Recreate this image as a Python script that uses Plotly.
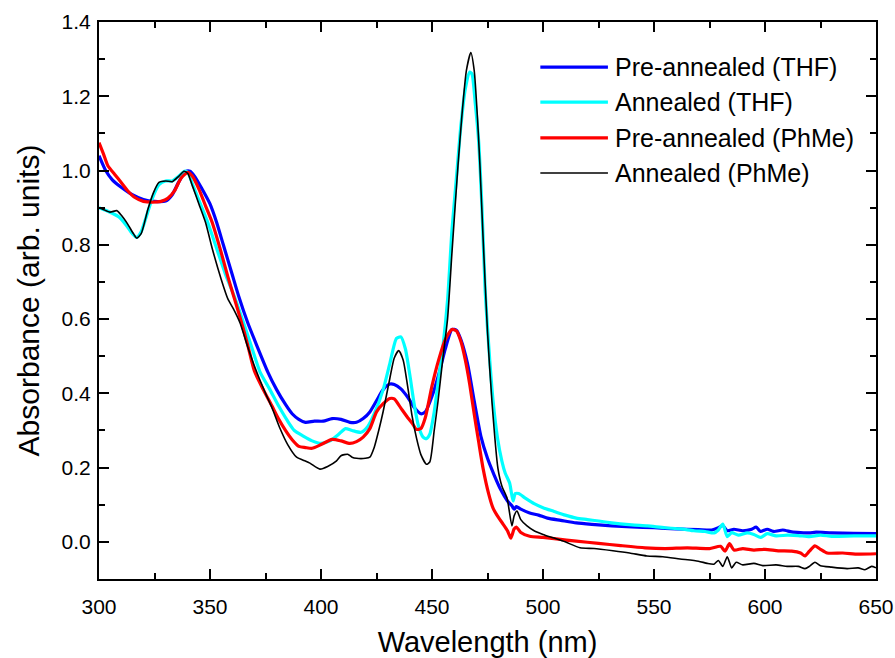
import plotly.graph_objects as go

# UV-vis absorbance spectra
SERIES_NAMES = ['Pre-annealed (THF)', 'Annealed (THF)', 'Pre-annealed (PhMe)', 'Annealed (PhMe)']

WL_PRE_THF = [300, 303, 306, 310, 315, 320, 325, 330, 333, 336, 339, 341, 343, 346, 350, 353, 356, 360, 363, 367,
              371, 376, 380, 384, 387, 390, 393, 397, 401, 405, 409, 413, 416, 419, 422, 425, 428, 431, 433, 436,
              439, 442, 445, 447, 450, 453, 456, 459, 461, 463, 466, 469, 472, 475, 478, 481, 484, 486, 487, 488,
              490, 494, 498, 502, 508, 515, 522, 531, 540, 550, 560, 570, 576, 579, 581, 583, 586, 590, 594, 596,
              598, 601, 604, 608, 612, 616, 620, 623, 630, 640, 650]
ABS_PRE_THF = [1.040, 1.000, 0.975, 0.955, 0.935, 0.922, 0.917, 0.918, 0.935, 0.970, 0.997, 0.998, 0.985, 0.955, 0.910,
               0.860, 0.800, 0.720, 0.660, 0.590, 0.530, 0.458, 0.410, 0.370, 0.345, 0.330, 0.322, 0.325, 0.325, 0.332,
               0.330, 0.322, 0.322, 0.332, 0.350, 0.380, 0.410, 0.425, 0.424, 0.412, 0.390, 0.362, 0.345, 0.350, 0.392,
               0.450, 0.520, 0.572, 0.570, 0.545, 0.480, 0.380, 0.285, 0.225, 0.180, 0.140, 0.110, 0.097, 0.088, 0.095,
               0.088, 0.078, 0.072, 0.064, 0.058, 0.051, 0.047, 0.043, 0.040, 0.038, 0.035, 0.033, 0.032, 0.038, 0.044,
               0.030, 0.034, 0.030, 0.034, 0.040, 0.028, 0.034, 0.028, 0.032, 0.027, 0.025, 0.024, 0.026, 0.024, 0.023,
               0.022]

WL_ANN_THF = [300, 303, 306, 309, 312, 315, 317, 319, 321, 324, 327, 330, 333, 336, 338.5, 340, 342, 345, 349, 353,
              357, 361, 365, 369, 372.5, 377, 381, 385, 388, 392, 396, 400, 404, 408, 411, 414, 418, 421, 424, 428,
              431, 434, 436, 438, 440, 442, 444, 446, 447.5, 449, 451, 453, 455, 457, 459, 461, 463, 465, 467, 468,
              469.5, 471, 472.5, 474, 476, 477.5, 479.5, 481.5, 483, 485, 486.5, 487.5, 489, 492, 496, 500, 505, 510,
              515, 520, 530, 540, 547, 555, 562, 568, 573, 577, 579, 581, 583, 585, 588, 592, 595, 598, 601, 605,
              610, 615, 620, 625, 630, 640, 650]
ABS_ANN_THF = [0.900, 0.893, 0.885, 0.875, 0.855, 0.830, 0.820, 0.835, 0.870, 0.925, 0.962, 0.972, 0.972, 0.985, 0.998,
               0.995, 0.965, 0.920, 0.860, 0.790, 0.720, 0.660, 0.592, 0.520, 0.458, 0.410, 0.365, 0.325, 0.300, 0.285,
               0.272, 0.265, 0.272, 0.290, 0.305, 0.300, 0.295, 0.310, 0.345, 0.410, 0.480, 0.548, 0.552, 0.520, 0.450,
               0.370, 0.310, 0.282, 0.278, 0.290, 0.350, 0.440, 0.530, 0.650, 0.840, 0.980, 1.120, 1.220, 1.265, 1.260,
               1.180, 1.080, 0.900, 0.670, 0.490, 0.380, 0.280, 0.217, 0.185, 0.158, 0.110, 0.130, 0.130, 0.118, 0.103,
               0.092, 0.082, 0.072, 0.064, 0.060, 0.052, 0.046, 0.043, 0.038, 0.035, 0.030, 0.028, 0.024, 0.032, 0.048,
               0.014, 0.025, 0.018, 0.024, 0.020, 0.012, 0.022, 0.016, 0.018, 0.017, 0.014, 0.018, 0.015, 0.016, 0.016]

WL_PRE_PHME = [300, 302, 304, 307, 310, 313, 316, 320, 324, 328, 331, 334, 337, 340, 342, 345, 348, 351, 355, 358,
               361, 364, 367, 370, 374, 378, 381, 384, 387, 390, 393, 396, 400, 405, 409, 413, 416, 419, 422, 425,
               428, 431, 433, 436, 439, 441, 443, 445, 447, 450, 453, 456, 459, 461, 463, 465, 467, 469, 471, 473,
               475.5, 477.5, 480, 482, 484, 485.5, 487, 488, 490, 494, 500, 506, 515, 525, 535, 546, 555, 565, 575, 580,
               582, 584, 586, 590, 595, 600, 606, 612, 616, 618, 620, 622.5, 625, 628, 635, 642, 650]
ABS_PRE_PHME = [1.075, 1.045, 1.013, 0.990, 0.968, 0.945, 0.928, 0.917, 0.915, 0.917, 0.925, 0.945, 0.980, 0.995, 0.985,
                0.950, 0.905, 0.860, 0.780, 0.715, 0.655, 0.595, 0.530, 0.460, 0.410, 0.365, 0.330, 0.300, 0.275, 0.257,
                0.254, 0.252, 0.262, 0.276, 0.272, 0.265, 0.270, 0.282, 0.305, 0.350, 0.372, 0.386, 0.385, 0.360, 0.335,
                0.320, 0.303, 0.305, 0.335, 0.420, 0.490, 0.545, 0.572, 0.568, 0.540, 0.490, 0.424, 0.345, 0.270, 0.198,
                0.130, 0.091, 0.065, 0.048, 0.030, 0.010, 0.035, 0.040, 0.025, 0.015, 0.012, 0.008, 0.002, -0.004, -0.010,
                -0.016, -0.018, -0.016, -0.018, -0.012, -0.025, -0.005, -0.022, -0.018, -0.022, -0.020, -0.024, -0.025,
                -0.030, -0.038, -0.025, -0.011, -0.020, -0.030, -0.030, -0.033, -0.032]

WL_ANN_PHME = [300, 302, 305, 308, 310, 313, 315.5, 317, 319, 322, 324.5, 327, 330, 333, 336, 338.3, 340, 342, 345, 348,
               351, 355, 358, 360.5, 363.5, 367, 371, 375, 378, 381.5, 385, 389, 392, 395, 399.5, 403, 407, 409, 412,
               414, 416, 420, 422, 424, 426, 428, 431, 433, 435, 437, 439, 441, 443, 445, 447.5, 449, 451, 452.7, 455,
               457, 459, 461.7, 463.5, 465.5, 467.5, 469, 470.5, 471.6, 473, 475, 477, 479.7, 481.5, 483.8, 486, 487,
               488.3, 490, 492.8, 496, 500, 504.5, 510, 516.7, 523, 531.5, 539, 546.8, 554, 561.7, 570, 574, 577, 579,
               581, 583, 585, 587, 590, 595, 599, 605, 610, 615, 618, 620, 622.5, 625, 630, 637, 642, 645, 648, 650]
ABS_ANN_PHME = [0.900, 0.895, 0.888, 0.892, 0.880, 0.855, 0.830, 0.818, 0.830, 0.895, 0.940, 0.968, 0.972, 0.970, 0.985,
                0.998, 0.992, 0.960, 0.910, 0.860, 0.790, 0.708, 0.655, 0.628, 0.590, 0.525, 0.458, 0.400, 0.360, 0.306,
                0.262, 0.228, 0.220, 0.212, 0.196, 0.203, 0.218, 0.232, 0.236, 0.228, 0.225, 0.225, 0.228, 0.255, 0.300,
                0.351, 0.440, 0.495, 0.515, 0.490, 0.420, 0.340, 0.280, 0.235, 0.209, 0.215, 0.300, 0.378, 0.500, 0.600,
                0.780, 1.013, 1.150, 1.270, 1.318, 1.270, 1.140, 1.013, 0.820, 0.566, 0.378, 0.198, 0.150, 0.118, 0.043,
                0.070, 0.083, 0.060, 0.043, 0.030, 0.020, 0.011, 0.000, -0.016, -0.018, -0.024, -0.030, -0.038, -0.040,
                -0.046, -0.052, -0.058, -0.060, -0.050, -0.066, -0.040, -0.070, -0.055, -0.062, -0.058, -0.064, -0.062,
                -0.066, -0.066, -0.072, -0.066, -0.055, -0.064, -0.068, -0.072, -0.070, -0.075, -0.066, -0.070]

COLORS = ['#0000FF', '#00FFFF', '#FF0000', '#000000']
WIDTHS = [3.2, 3.2, 3.2, 1.6]

FONT = 'Liberation Sans, Arial, sans-serif'

fig = go.Figure()
data = [(WL_PRE_THF, ABS_PRE_THF), (WL_ANN_THF, ABS_ANN_THF), (WL_PRE_PHME, ABS_PRE_PHME), (WL_ANN_PHME, ABS_ANN_PHME)]
for (wl, ab), name, c, w in zip(data, SERIES_NAMES, COLORS, WIDTHS):
    fig.add_trace(go.Scatter(x=wl, y=ab, mode='lines', name=name,
                             line=dict(color=c, width=w, shape='spline', smoothing=0.6),
                             showlegend=False))

# hand-drawn legend (long sample lines like the original)
leg_y = [0.919, 0.856, 0.792, 0.729]
for name, c, w, yy in zip(SERIES_NAMES, COLORS, WIDTHS, leg_y):
    fig.add_shape(type='line', xref='paper', yref='paper', x0=0.568, x1=0.655, y0=yy, y1=yy,
                  line=dict(color=c, width=w))
    fig.add_annotation(xref='paper', yref='paper', x=0.661, y=yy, text=name, showarrow=False,
                       xanchor='left', yanchor='middle', font=dict(family=FONT, size=25, color='black'))

axis_common = dict(showline=True, linecolor='black', linewidth=2, mirror='ticks', ticks='inside',
                   tickwidth=2, ticklen=10, tickcolor='black', showgrid=False, zeroline=False,
                   tickfont=dict(family=FONT, size=21, color='black'))

fig.update_xaxes(range=[300, 650], dtick=50, tick0=300, ticklabelstandoff=8,
                 minor=dict(ticks='inside', ticklen=6, tickwidth=1.5, tickcolor='black', dtick=25, showgrid=False),
                 title=dict(text='Wavelength (nm)', font=dict(family=FONT, size=29, color='black'), standoff=14),
                 **axis_common)
fig.update_yaxes(range=[-0.1, 1.4], dtick=0.2, tick0=0, tickformat='.1f', ticklabelstandoff=2,
                 minor=dict(ticks='inside', ticklen=6, tickwidth=1.5, tickcolor='black', dtick=0.1, showgrid=False),
                 title=dict(text='Absorbance (arb. units)', font=dict(family=FONT, size=30, color='black'), standoff=13),
                 **axis_common)

fig.update_layout(width=895, height=658, plot_bgcolor='white', paper_bgcolor='white',
                  margin=dict(l=99, r=19, t=22, b=79, autoexpand=False),
                  font=dict(family=FONT))

# page has a default 8px body margin; drop it so the figure sits at the window corner
fig.write_html("out.html", config={'displayModeBar': False},
               post_script="document.body.style.margin='0px';")
